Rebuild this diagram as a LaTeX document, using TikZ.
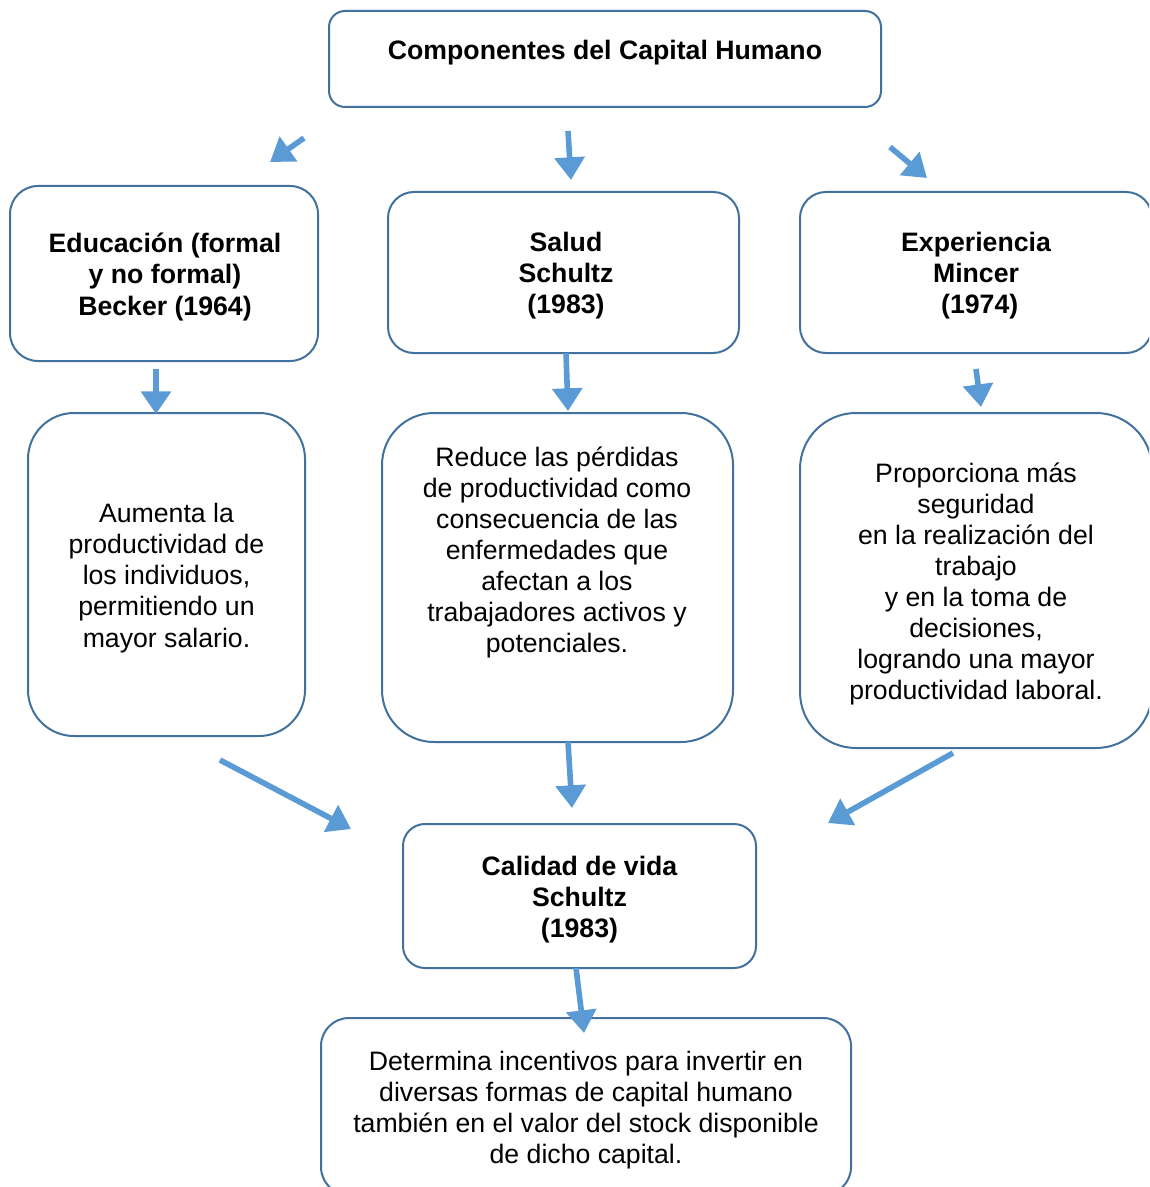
\documentclass[tikz,border=0pt]{standalone}
\usepackage{fontspec}
\setmainfont{Liberation Sans}
\usetikzlibrary{arrows.meta}
\definecolor{boxline}{HTML}{41719C}
\definecolor{arrowblue}{HTML}{5B9BD5}
\tikzset{
  box/.style n args={3}{draw=boxline, line width=1.5pt, rounded corners=#3*0.75pt,
    minimum width=#1*0.75pt, minimum height=#2*0.75pt, inner sep=0pt, outer sep=0pt},
  txt/.style={align=center, inner sep=0pt, yshift=-2.6pt, font=\fontsize{20}{23.3}\selectfont},
  bold/.style={font=\fontsize{20}{23.3}\selectfont\bfseries},
  arr/.style={draw=arrowblue, line width=4.2pt,
    -{Triangle[width=22pt,length=17pt]}},
}
\begin{document}
\begin{tikzpicture}[x=0.75pt,y=-0.75pt]
\useasboundingbox (0,0) rectangle (1149,1187);
\clip (0,0) rectangle (1149,1187);
% boxes
\node[box={552}{96}{16}] (top) at (605,59) {};
\node[txt,bold] (toptxt) at (605,49) {Componentes del Capital Humano};

\node[box={308}{175}{28}] (edu) at (164,273.5) {};
\node[txt,bold] (edutxt) at (165,273.5) {Educación (formal\\y no formal)\\Becker (1964)};
\node[box={351}{161}{26}] (sal) at (563.5,272.5) {};
\node[txt,bold] (saltxt) at (566,272.5) {Salud\\Schultz\\(1983)};
\node[box={352}{161}{26}] (exp) at (976,272.5) {};
\node[txt,bold] (exptxt) at (976,272.5) {Experiencia\\Mincer\\\ (1974)};

\node[box={277}{323}{46}] (aum) at (166.5,574.5) {};
\node[txt] (aumtxt) at (166.5,574.5) {Aumenta la\\productividad de\\los individuos,\\permitiendo un\\mayor salario.};
\node[box={351}{329}{52}] (red) at (557.5,577.5) {};
\node[txt] (redtxt) at (557,549) {Reduce las pérdidas\\de productividad como\\consecuencia de las\\enfermedades que\\afectan a los\\trabajadores activos y\\potenciales.};
\node[box={352}{335}{56}] (pro) at (976,580.5) {};
\node[txt] (protxt) at (976,580.5) {Proporciona más\\seguridad\\en la realización del\\trabajo\\y en la toma de\\decisiones,\\logrando una mayor\\productividad laboral.};

\node[box={353}{144}{22}] (cal) at (579.5,896) {};
\node[txt,bold] (caltxt) at (579.5,896) {Calidad de vida\\Schultz\\(1983)};
\node[box={530}{177}{28}] (det) at (586,1106.5) {};
\node[txt] (dettxt) at (586,1106.5) {Determina incentivos para invertir en\\diversas formas de capital humano\\también en el valor del stock disponible\\de dicho capital.};

% arrow endpoints
\coordinate (a1s) at (304,138); \coordinate (a1e) at (270,162);
\coordinate (a2s) at (568,131); \coordinate (a2e) at (571,180);
\coordinate (a3s) at (890,147); \coordinate (a3e) at (927,178);
\coordinate (a4s) at (156,369); \coordinate (a4e) at (156,414);
\coordinate (a5s) at (566,353); \coordinate (a5e) at (568,411);
\coordinate (a6s) at (976,369); \coordinate (a6e) at (981,407);
\coordinate (a7s) at (220,760); \coordinate (a7e) at (351,829);
\coordinate (a8s) at (568,742); \coordinate (a8e) at (572,808);
\coordinate (a9s) at (953,753); \coordinate (a9e) at (828,823);
\coordinate (a10s) at (576,968); \coordinate (a10e) at (584,1033);

\foreach \i in {1,...,10} \draw[arr] (a\i s) -- (a\i e);
\end{tikzpicture}
\end{document}
